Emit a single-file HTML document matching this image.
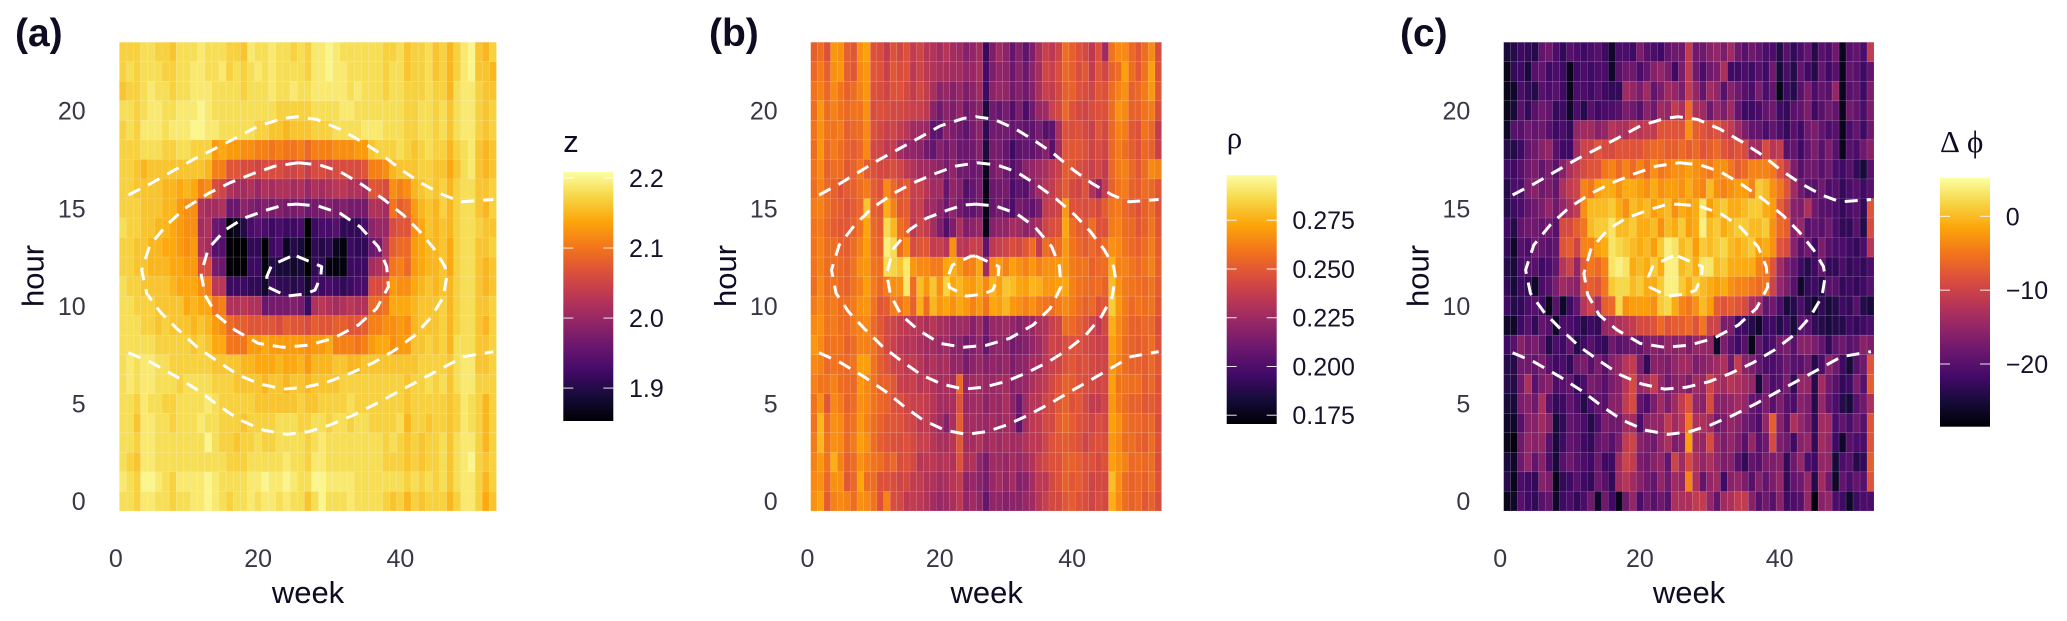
<!DOCTYPE html>
<html lang="en">
<head>
<meta charset="utf-8">
<title>Weekly and hourly heatmaps of z, rho and delta phi</title>
<style>
html,body{margin:0;padding:0;background:#fff;width:2067px;height:621px;overflow:hidden}
svg{display:block;font-family:"Liberation Sans",Arial,sans-serif}
.ytick,.xtick{font-size:25px;fill:#3b3646}
.axt{font-size:31px;fill:#0e0b22}
.tag{font-size:39px;font-weight:bold;fill:#0e0b22}
.ltick{font-size:25px;fill:#15122a}
.ltitle{font-size:31px;fill:#0e0b22}
.greek{font-family:"Liberation Serif","DejaVu Serif",serif}
</style>
</head>
<body>
<svg id="chart" xmlns="http://www.w3.org/2000/svg" width="2067" height="621" viewBox="0 0 2067 621"></svg>
<script>
const weekTicks = [0, 20, 40];
const hourTicks = [0, 5, 10, 15, 20];
const zLegendTicks = [1.9, 2.0, 2.1, 2.2];
const zLegendLabels = ["1.9", "2.0", "2.1", "2.2"];
const rhoLegendTicks = [0.175, 0.2, 0.225, 0.25, 0.275];
const rhoLegendLabels = ["0.175", "0.200", "0.225", "0.250", "0.275"];
const phiLegendTicks = [-20, -10, 0];
const phiLegendLabels = ["\u221220", "\u221210", "0"];
const infernoStops = ["#000004","#160b39","#420a68","#6a176e","#932667","#bb3754","#dd513a","#f3771a","#fca50a","#f6d645","#fcffa4"];

/* contour lines, week values and hour values */
const contourTopWeeks = [1.77,4.81,7.86,10.9,13.95,17,20.04,23.55,25.43,28.24,31.52,34.56,37.14,40.18,42.99,46.04,48.62,53.07];
const contourTopHours = [15.68,16.24,16.87,17.5,18.06,18.63,19.21,19.6,19.69,19.55,19.04,18.41,17.81,16.96,16.27,15.68,15.33,15.45];
const contourBottomWeeks = [1.77,4.81,8.56,11.84,14.65,17.46,20.74,24.02,27.07,30.11,33.39,36.67,39.72,42.76,45.8,48.85,53.07];
const contourBottomHours = [7.6,7.14,6.37,5.61,4.84,4.16,3.64,3.42,3.56,3.9,4.41,5.01,5.61,6.2,6.8,7.4,7.66];
const contourWideWeeks = [25.66,28.71,31.52,34.56,37.61,40.42,42.76,44.87,46.27,46.51,46.04,44.4,42.06,39.25,36.2,32.92,29.88,26.6,23.55,20.27,17.23,14.18,11.37,8.56,6.22,4.34,3.64,4.81,7.15,9.73,13.01,16.06,19.34,22.38,25.66];
const contourWideHours = [17.33,17.21,16.87,16.22,15.47,14.65,13.8,12.86,12.01,11.49,10.47,9.45,8.51,7.74,7.09,6.54,6.12,5.83,5.74,6,6.46,7.19,7.91,8.85,9.7,10.64,11.84,13.12,14.14,14.99,15.76,16.31,16.78,17.16,17.33];
const contourMidWeeks = [25.43,28.47,31.52,34.33,36.9,38.08,38.31,36.67,34.09,30.58,27.07,23.55,20.04,16.76,14.18,12.54,11.98,13.01,15.35,17.93,21.21,23.55,25.43];
const contourMidHours = [15.21,15.11,14.74,14.05,13.03,12.01,10.98,9.87,9.02,8.34,7.99,7.88,8.08,8.76,9.53,10.56,11.66,12.94,13.88,14.48,14.91,15.16,15.21];
const contourInnerWeeks = [25.43,28.94,28.8,28,26.6,24.02,21.44,21.21,21.91,24.72,25.43];
const contourInnerHours = [12.55,12.01,11.49,10.81,10.61,10.5,10.95,11.49,12.09,12.55,12.55];

/* panel a: z = 1.99 + value / 100, rows run from hour 23 down to hour 0, columns week 1 to 53 */
const zRows = [
[18,18,18,19,19,18,18,17,19,19,19,20,19,19,19,18,18,17,20,19,19,20,19,19,18,19,18,20,20,21,20,19,19,19,19,19,19,18,18,19,17,18,18,19,17,18,16,18,20,21,17,16,18],
[18,19,18,19,19,19,18,18,19,19,20,20,19,19,20,18,19,18,19,20,19,20,19,19,19,19,18,20,20,21,20,20,19,19,19,19,19,18,19,19,17,18,18,19,17,18,16,18,20,21,17,17,16],
[17,18,18,19,20,19,19,18,19,19,20,20,20,19,19,19,19,18,19,19,19,20,19,19,20,19,19,20,20,20,20,20,19,20,19,19,19,18,19,19,18,18,18,19,18,18,16,19,20,20,18,17,17],
[19,19,18,19,20,20,19,19,20,20,20,21,20,19,19,19,19,19,19,19,19,19,18,18,18,18,18,19,19,19,19,20,20,19,19,19,19,19,19,19,18,18,19,19,18,19,17,19,20,20,18,17,18],
[18,19,18,20,20,20,19,20,20,20,21,21,20,20,19,19,19,19,19,18,18,17,17,16,17,17,17,18,18,18,19,19,19,19,20,20,20,19,19,19,18,18,19,19,18,19,17,19,20,20,18,17,18],
[18,18,18,19,19,19,18,18,19,19,18,18,18,14,15,14,14,13,13,12,12,11,12,11,11,12,10,12,12,12,13,13,13,14,14,17,18,18,18,19,18,17,18,19,18,18,16,18,19,20,17,16,17],
[18,18,17,16,17,17,17,17,17,17,17,17,16,12,12,8,8,7,7,6,7,7,7,6,6,7,5,7,7,6,7,7,7,7,8,12,12,13,16,17,17,17,18,18,17,17,15,17,19,20,17,16,17],
[18,18,17,17,17,17,16,16,15,16,15,12,13,7,6,3,2,2,3,1,3,2,3,3,2,3,1,3,2,3,4,4,3,3,2,8,8,7,13,12,13,16,17,18,17,18,16,18,19,19,17,17,18],
[18,18,18,17,17,17,16,16,14,13,13,3,2,2,3,-3,-3,0,-1,-2,-1,-2,-1,-2,-2,-1,-3,-2,-2,-1,-2,-1,-2,-2,-2,3,3,2,11,9,10,14,16,17,16,18,16,18,19,19,17,16,18],
[19,18,18,17,17,16,16,15,14,13,13,2,3,-3,-4,-13,-12,-9,-6,-5,-6,-7,-6,-7,-7,-6,-14,-7,-6,-6,-5,-8,-8,-8,-6,0,1,1,7,8,8,13,15,17,16,17,16,18,19,19,18,17,17],
[18,18,17,17,16,16,15,15,14,13,14,3,2,-5,-5,-14,-15,-15,-8,-8,-14,-7,-6,-12,-9,-10,-14,-8,-9,-8,-12,-13,-7,-8,-8,-3,-2,3,9,10,10,14,15,16,16,17,15,18,19,19,17,17,18],
[18,18,17,17,16,16,16,15,15,14,14,7,7,-2,-3,-15,-15,-15,-7,-7,-13,-9,-10,-10,-11,-10,-15,-8,-8,-13,-13,-13,-7,-7,-7,2,3,4,11,12,10,14,15,16,16,17,15,18,19,19,17,16,17],
[19,18,18,17,17,17,17,16,15,15,15,13,12,4,4,-7,-7,-7,-8,-8,-11,-7,-8,-8,-9,-8,-11,-6,-7,-6,-7,-8,-7,-6,-6,7,7,8,14,13,13,15,16,17,16,17,16,18,19,19,17,16,17],
[19,19,18,18,18,17,17,17,17,15,16,15,15,11,12,3,3,4,3,3,-3,-2,-2,-2,-1,-2,-7,3,4,3,2,3,4,3,3,10,10,11,15,15,15,16,17,17,17,18,16,18,19,19,17,17,18],
[19,19,19,18,18,17,18,17,17,17,16,17,16,14,13,10,9,9,8,8,8,8,7,9,8,8,7,9,8,8,9,9,8,8,9,12,12,13,13,14,13,16,17,17,17,18,16,18,19,19,17,16,18],
[19,19,19,19,19,18,18,18,18,18,17,18,17,15,15,11,11,11,14,14,15,14,14,14,14,14,13,14,14,15,12,12,12,11,12,14,15,15,13,14,14,17,17,18,17,18,16,19,19,19,17,17,18],
[19,20,19,20,20,19,19,18,18,18,18,18,18,17,17,17,17,16,16,15,15,15,16,15,15,16,14,16,16,16,17,17,16,16,17,17,17,17,17,17,17,17,18,18,18,18,17,19,20,20,17,17,18],
[19,20,19,20,20,19,19,19,18,19,19,19,19,18,18,18,17,17,17,17,16,17,17,16,17,17,16,17,17,17,17,18,18,18,18,18,18,18,18,18,17,18,18,19,18,19,17,19,20,20,18,18,18],
[19,19,18,20,19,19,18,18,19,19,19,19,20,19,18,18,18,18,18,17,17,17,17,17,17,18,17,17,18,18,18,18,19,18,18,18,18,18,18,18,17,18,18,18,18,18,17,18,20,19,18,16,18],
[19,19,17,20,20,19,19,18,19,19,19,20,19,19,18,18,18,17,18,18,18,18,19,19,19,18,18,19,19,18,19,19,18,19,19,18,18,18,18,19,16,18,18,17,18,18,17,18,20,19,18,16,18],
[19,19,18,20,20,19,19,19,19,19,19,19,21,19,18,18,17,18,18,19,18,18,19,19,19,19,18,19,20,19,19,19,19,19,19,19,19,18,19,18,17,18,17,18,18,19,17,19,20,20,18,16,18],
[19,18,17,20,20,19,19,19,19,19,19,19,19,19,19,18,18,18,19,19,19,19,19,20,19,19,18,20,20,19,19,19,19,19,19,19,19,18,18,18,17,18,17,18,18,19,17,19,20,21,18,17,18],
[20,19,18,21,21,20,19,18,20,20,20,20,21,20,19,19,19,19,20,20,21,20,20,21,20,19,19,21,21,20,20,20,20,19,19,19,19,19,19,19,18,19,18,19,18,19,17,19,20,20,18,16,18],
[19,19,18,20,20,19,19,18,19,19,20,20,21,20,19,18,19,19,20,19,20,20,19,20,19,19,17,19,21,19,19,19,20,19,19,19,19,18,17,18,16,18,17,18,18,18,16,18,20,20,18,15,17]
];

/* panel b: rho = 0.197 + value / 1000, rows run from hour 23 down to hour 0 */
const rhoRows = [
[55,60,50,72,70,55,52,70,75,50,48,40,50,45,50,40,44,36,35,30,36,30,28,20,24,30,-3,18,28,22,10,20,8,18,32,42,38,44,60,55,50,46,38,50,28,62,68,68,58,52,60,68,48],
[58,64,55,70,72,55,52,68,72,52,50,42,52,48,50,38,44,38,34,32,32,30,30,24,26,32,0,18,24,22,12,22,12,22,30,45,42,48,58,55,48,52,40,52,45,56,60,74,60,52,62,74,50],
[62,66,58,68,62,56,60,66,72,50,48,44,50,50,46,40,46,40,32,22,26,20,26,18,22,28,-2,22,26,24,14,20,14,20,32,42,40,46,55,56,50,48,44,52,50,60,66,70,55,58,64,72,52],
[60,72,60,66,62,58,62,62,70,48,50,48,46,46,44,42,42,38,22,14,22,18,24,12,18,22,-12,14,10,16,4,18,2,14,26,28,42,46,58,50,46,44,48,50,50,60,70,68,56,56,62,64,48],
[62,70,62,62,64,55,58,60,68,50,46,42,44,40,36,28,28,26,8,8,22,18,14,8,16,22,-6,14,14,14,10,12,8,8,16,6,8,32,50,48,50,46,42,52,46,58,66,64,52,50,62,58,40],
[60,72,58,64,60,56,54,58,68,46,44,38,40,30,24,24,22,14,10,20,14,20,12,12,14,20,-12,16,16,10,-2,8,10,8,14,20,6,30,52,52,52,50,44,48,44,58,64,60,54,50,58,56,42],
[62,68,56,60,60,52,56,62,54,50,46,46,48,44,38,34,30,28,26,22,16,24,14,14,12,14,-20,16,20,12,4,12,22,24,28,32,38,42,54,52,48,46,42,46,40,58,64,66,58,52,60,68,66],
[60,66,58,56,50,54,56,60,64,54,50,68,58,50,54,42,42,36,28,30,10,24,20,4,10,16,-22,12,14,16,2,8,6,18,28,36,40,46,54,46,44,50,34,22,40,56,62,64,56,54,60,58,52],
[64,66,60,56,54,50,54,58,84,56,52,78,66,52,54,40,42,30,28,22,12,24,14,8,8,14,-22,10,16,10,2,16,12,8,16,40,42,44,72,50,50,48,50,46,54,62,64,58,54,50,56,60,50],
[62,64,58,54,52,52,56,62,76,58,54,90,80,60,56,38,44,40,30,18,4,18,32,18,22,26,-22,20,24,24,30,28,22,26,32,44,48,50,76,60,54,52,60,50,50,64,66,60,58,52,56,62,52],
[62,66,60,60,56,54,60,66,74,60,56,96,90,60,70,48,52,52,40,42,36,70,38,36,42,42,8,38,42,44,48,46,52,60,40,60,56,60,72,62,58,54,58,54,60,70,68,62,58,56,60,64,54],
[62,66,60,60,58,56,62,70,72,62,60,90,88,84,94,72,68,68,64,64,76,78,72,64,66,76,28,68,72,66,74,70,66,72,66,70,70,72,72,64,62,62,56,58,60,78,66,66,62,58,62,66,56],
[60,68,60,62,58,56,62,66,74,64,58,64,70,70,94,60,82,72,84,70,88,76,80,74,72,78,68,80,74,84,82,76,74,80,78,72,72,74,76,66,62,60,58,60,56,82,70,64,62,60,58,62,54],
[64,68,62,64,60,60,64,70,72,62,52,54,64,62,68,56,78,60,80,72,76,70,76,72,66,72,62,76,74,80,72,70,66,70,64,62,60,64,68,64,60,56,58,50,52,86,72,64,58,62,60,62,52],
[68,70,62,64,60,58,64,66,68,58,52,46,44,40,38,36,36,32,36,32,30,26,28,28,20,28,14,26,26,28,24,20,24,26,32,34,42,44,60,58,54,50,44,38,46,78,68,62,56,56,58,58,48],
[72,68,60,62,62,56,60,66,66,62,54,46,42,38,34,36,32,28,30,26,28,22,22,14,18,24,10,22,24,22,14,18,20,24,28,36,44,42,48,50,50,46,44,42,42,74,68,60,56,54,56,60,50],
[68,66,58,62,60,58,62,74,74,62,54,50,44,42,38,40,36,30,34,30,32,24,26,16,22,26,20,24,22,26,18,22,24,30,30,38,42,44,50,52,48,50,46,44,44,72,66,60,56,56,54,58,52],
[66,62,62,66,60,58,58,72,68,62,56,56,52,42,40,42,36,38,34,30,32,30,58,24,28,30,26,26,28,30,20,24,26,32,36,40,46,50,56,54,50,48,46,44,46,74,62,62,60,60,54,58,50],
[62,70,52,68,64,56,60,70,68,62,58,56,50,48,44,42,42,40,36,30,30,32,50,26,28,30,22,28,26,32,22,12,28,36,36,44,46,52,56,50,52,46,40,40,44,72,64,60,56,56,52,54,50],
[62,80,60,70,68,58,62,72,66,60,56,52,52,50,46,44,38,40,34,28,20,32,54,28,30,28,26,30,26,30,26,8,30,38,40,46,46,54,58,54,50,48,44,48,46,74,70,62,58,58,56,58,48],
[64,80,62,70,68,58,64,74,70,60,54,52,50,48,50,46,42,42,36,32,32,36,52,30,30,34,26,32,28,32,28,30,34,38,38,44,50,52,54,52,50,44,48,50,48,72,68,60,60,56,54,60,50],
[66,72,62,78,66,56,60,70,66,62,60,54,58,48,50,46,36,38,38,34,36,34,50,32,34,24,16,28,28,26,30,26,30,34,42,46,50,50,56,56,54,50,50,46,50,74,70,66,58,60,58,60,48],
[68,70,58,70,70,52,58,76,60,60,50,50,48,44,46,40,40,34,34,30,32,36,40,22,26,22,16,26,30,24,30,20,22,30,38,38,46,50,56,52,54,50,44,46,46,82,70,60,56,58,56,60,50],
[70,74,54,66,68,66,60,70,68,62,50,66,48,46,38,40,38,34,30,26,28,32,38,24,28,24,10,24,24,20,22,22,26,28,36,42,46,46,52,54,50,48,44,48,46,78,68,60,56,58,52,56,48]
];

/* panel c: delta phi, rows run from hour 23 down to hour 0 */
const phiRows = [
[-25,-24,-22,-23,-24,-19,-18,-21,-23,-20,-21,-22,-21,-20,-22,-26,-21,-21,-22,-17,-20,-21,-22,-19,-18,-18,-11,-18,-18,-16,-15,-17,-14,-18,-20,-18,-19,-21,-21,-24,-20,-23,-21,-19,-24,-20,-21,-18,-27,-20,-19,-21,-11],
[-27,-23,-22,-25,-20,-19,-22,-21,-22,-27,-22,-21,-22,-21,-21,-26,-20,-18,-18,-21,-19,-16,-15,-17,-22,-17,-11,-18,-21,-18,-17,-13,-22,-22,-21,-22,-20,-22,-18,-25,-21,-24,-19,-22,-24,-19,-22,-20,-27,-19,-20,-22,-19],
[-27,-26,-21,-23,-24,-20,-21,-20,-22,-27,-21,-21,-22,-20,-22,-23,-23,-14,-15,-17,-14,-19,-17,-14,-15,-17,-11,-15,-19,-14,-15,-20,-16,-18,-20,-21,-17,-21,-19,-27,-22,-24,-20,-17,-21,-19,-20,-15,-27,-20,-19,-22,-17],
[-27,-25,-20,-23,-20,-18,-19,-23,-22,-26,-21,-24,-20,-22,-21,-21,-20,-17,-18,-20,-16,-18,-14,-15,-11,-13,-6,-13,-14,-18,-15,-17,-14,-19,-22,-22,-21,-19,-18,-22,-23,-20,-19,-17,-22,-20,-18,-19,-27,-18,-19,-21,-17],
[-26,-20,-20,-18,-19,-18,-20,-22,-21,-23,-15,-14,-14,-16,-15,-12,-13,-13,-11,-12,-11,-11,-8,-8,-8,-8,-3,-7,-8,-9,-8,-10,-11,-14,-17,-19,-19,-21,-19,-21,-23,-20,-22,-18,-17,-19,-21,-20,-27,-21,-19,-22,-18],
[-24,-24,-22,-19,-18,-16,-15,-20,-22,-22,-14,-10,-10,-8,-9,-9,-8,-8,-8,-8,-7,-6,-6,-7,-7,-6,-7,-6,-8,-7,-6,-8,-9,-8,-9,-14,-14,-9,-12,-11,-20,-19,-22,-19,-17,-20,-17,-20,-27,-20,-21,-18,-16],
[-22,-22,-20,-18,-17,-19,-17,-20,-16,-13,-11,-9,-8,-8,-5,-4,-6,-4,-6,-4,-6,-3,-5,-4,-3,-3,-2,-3,-4,-5,-3,-3,-5,-7,-6,-4,-4,-4,-5,-8,-11,-17,-20,-18,-18,-20,-18,-21,-22,-20,-23,-25,-20],
[-24,-21,-21,-17,-16,-18,-17,-19,-13,-11,-10,-4,-5,-2,-1,-1,-3,-1,-1,-2,-3,-1,-3,-2,-2,-3,-1,-3,-4,0,-3,-4,-3,-2,-2,-4,1,0,-3,-5,-8,-14,-18,-20,-20,-18,-21,-20,-23,-21,-20,-22,-20],
[-24,-22,-21,-19,-18,-17,-15,-18,-15,-13,-11,-3,0,0,0,1,-1,-3,0,-1,0,-2,-1,0,-3,-1,-2,-1,3,-2,0,1,-1,-1,0,1,1,-1,-2,-7,-10,-16,-17,-13,-18,-20,-20,-21,-23,-21,-20,-23,-8],
[-22,-24,-19,-18,-18,-19,-18,-20,-9,-9,-7,-5,0,1,1,3,0,0,1,-1,-1,0,-3,0,-1,1,-2,-1,4,0,1,-1,0,1,1,0,0,1,-3,-6,-7,-16,-15,-20,-19,-20,-18,-21,-23,-23,-20,-24,-9],
[-23,-26,-20,-21,-18,-19,-20,-19,-8,-7,-10,-4,-4,-2,-1,3,2,1,0,-1,0,-2,1,4,3,0,1,-2,1,0,1,2,0,-1,0,1,-2,-1,-3,-8,-9,-16,-20,-18,-22,-17,-20,-21,-21,-22,-23,-21,-12],
[-24,-25,-21,-20,-20,-22,-21,-19,-12,-10,-15,-7,-5,-6,-4,3,4,3,-1,0,-1,1,-1,4,4,0,1,-1,3,3,0,1,-1,-1,-1,-1,-4,-5,-8,-14,-17,-19,-22,-24,-22,-19,-23,-23,-21,-23,-22,-23,-21],
[-23,-25,-22,-23,-26,-21,-20,-17,-14,-15,-16,-8,-7,-8,-5,1,2,2,0,1,-1,-1,1,4,4,1,-1,1,0,-1,-2,-1,-3,-4,-4,-5,-6,-5,-10,-15,-17,-20,-26,-23,-22,-24,-20,-20,-23,-22,-23,-22,-20],
[-22,-24,-23,-21,-20,-22,-27,-20,-26,-22,-19,-12,-10,-14,-7,-6,2,-3,-2,-2,-2,-3,1,2,-1,-4,-5,-3,0,-2,-7,-8,-7,-8,-9,-13,-14,-19,-18,-21,-25,-24,-21,-24,-26,-23,-25,-24,-22,-23,-20,-24,-25],
[-26,-26,-22,-20,-23,-19,-20,-26,-21,-21,-22,-24,-22,-23,-15,-14,-13,-12,-11,-9,-9,-8,-6,-8,-7,-7,-6,-8,-5,-10,-10,-17,-17,-22,-22,-24,-26,-22,-22,-24,-22,-25,-20,-20,-23,-24,-25,-24,-24,-22,-23,-22,-21],
[-22,-20,-16,-18,-17,-19,-24,-21,-22,-19,-24,-22,-20,-22,-23,-18,-20,-19,-18,-19,-17,-16,-17,-15,-16,-15,-17,-15,-15,-15,-26,-17,-20,-22,-20,-27,-19,-22,-21,-18,-17,-20,-16,-16,-17,-19,-23,-19,-18,-20,-19,-16,-17],
[-24,-24,-18,-18,-19,-17,-20,-22,-21,-23,-18,-17,-20,-17,-20,-16,-15,-12,-11,-17,-23,-16,-16,-17,-15,-14,-14,-17,-16,-15,-14,-13,-18,-11,-16,-17,-19,-21,-21,-20,-18,-20,-20,-18,-24,-21,-16,-18,-22,-25,-20,-18,-8],
[-24,-24,-18,-13,-20,-17,-16,-21,-20,-19,-23,-21,-17,-18,-20,-17,-16,-12,-9,-15,-14,-11,-15,-18,-16,-15,-17,-14,-15,-10,-13,-14,-12,-13,-14,-15,-25,-18,-21,-20,-17,-23,-15,-15,-24,-14,-18,-20,-23,-22,-17,-20,-7],
[-25,-25,-17,-16,-18,-13,-20,-23,-22,-19,-21,-24,-21,-19,-20,-16,-16,-11,-9,-19,-21,-17,-14,-17,-14,-11,-8,-15,-16,-9,-16,-16,-15,-14,-15,-19,-20,-17,-20,-17,-20,-21,-16,-17,-24,-15,-19,-21,-24,-25,-20,-18,-13],
[-26,-26,-20,-16,-16,-14,-16,-25,-23,-19,-20,-21,-24,-21,-17,-18,-18,-14,-14,-21,-16,-15,-15,-11,-14,-12,-5,-13,-13,-14,-18,-17,-15,-16,-18,-19,-21,-15,-7,-16,-20,-13,-15,-17,-23,-14,-14,-21,-19,-21,-18,-20,-8],
[-27,-28,-18,-15,-16,-15,-20,-25,-22,-19,-20,-22,-23,-19,-18,-20,-17,-11,-10,-16,-17,-18,-15,-13,-17,-16,-2,-14,-15,-9,-15,-17,-15,-17,-20,-15,-20,-18,-9,-17,-18,-22,-16,-15,-23,-14,-15,-22,-26,-20,-21,-21,-8],
[-25,-26,-18,-15,-19,-16,-21,-25,-20,-18,-20,-21,-22,-18,-22,-22,-14,-10,-11,-17,-18,-16,-15,-19,-10,-14,-9,-13,-15,-13,-15,-17,-16,-20,-23,-19,-20,-17,-17,-16,-23,-18,-15,-21,-22,-15,-15,-25,-21,-20,-24,-23,-7],
[-24,-27,-21,-22,-23,-16,-17,-27,-23,-22,-20,-22,-23,-18,-20,-23,-14,-12,-14,-16,-18,-19,-15,-18,-14,-15,-4,-13,-19,-15,-14,-22,-16,-15,-17,-20,-16,-19,-17,-15,-23,-19,-18,-15,-24,-14,-18,-26,-19,-21,-19,-20,-8],
[-27,-26,-20,-22,-23,-20,-19,-26,-22,-21,-23,-21,-18,-26,-18,-22,-27,-18,-15,-21,-18,-20,-18,-20,-13,-13,-13,-11,-11,-15,-19,-14,-13,-11,-11,-16,-20,-18,-20,-16,-22,-21,-20,-15,-28,-16,-15,-21,-22,-26,-22,-21,-21]
];

const NS = "http://www.w3.org/2000/svg";
const root = document.getElementById("chart");

function make(tag, attrs, parent, text) {
  const el = document.createElementNS(NS, tag);
  for (const k in attrs) el.setAttribute(k, attrs[k]);
  if (text !== undefined) el.textContent = text;
  parent.appendChild(el);
  return el;
}
function hexToRgb(h) {
  return [parseInt(h.slice(1, 3), 16), parseInt(h.slice(3, 5), 16), parseInt(h.slice(5, 7), 16)];
}
function inferno(t) {
  const c = Math.max(0, Math.min(1, t)) * (infernoStops.length - 1);
  const i = Math.min(Math.floor(c), infernoStops.length - 2);
  const f = c - i;
  const a = hexToRgb(infernoStops[i]);
  const b = hexToRgb(infernoStops[i + 1]);
  return "rgb(" + [0, 1, 2].map(function (k) { return Math.round(a[k] + (b[k] - a[k]) * f); }).join(",") + ")";
}

const yOfHour = function (h) { return 501.2 - 19.53 * h; };
const defs = make("defs", {}, root);
const gradient = make("linearGradient", { id: "inferno-gradient", x1: 0, y1: 1, x2: 0, y2: 0 }, defs);
infernoStops.forEach(function (c, i) {
  make("stop", { offset: i / (infernoStops.length - 1), "stop-color": c }, gradient);
});

const contourSets = [
  ["contour-top", contourTopWeeks, contourTopHours],
  ["contour-bottom", contourBottomWeeks, contourBottomHours],
  ["contour-wide", contourWideWeeks, contourWideHours],
  ["contour-mid", contourMidWeeks, contourMidHours],
  ["contour-inner", contourInnerWeeks, contourInnerHours]
];

function drawPanel(p) {
  const xOfWeek = function (w) { return p.x0 + p.perWeek * w; };
  const colour = function (v) { return inferno((v - p.min) / (p.max - p.min)); };
  const g = make("g", {}, root);
  
  

  const tag = make("text", { class: "tag", x: p.tagX, y: 46 }, g, p.tag);
  
  

  const cells = make("g", {}, g);
  
  
  p.rows.forEach(function (row, r) {
    const hour = 23 - r;
    row.forEach(function (raw, c) {
      const week = c + 1;
      const rect = make("rect", {
        x: xOfWeek(week - 0.5),
        y: yOfHour(hour + 0.5),
        width: p.perWeek,
        height: 19.53,
        fill: colour(p.value(raw)),
        stroke: "rgba(255,255,255,0.13)",
        "stroke-width": 0.6
      }, cells);
      
      
    });
  });

  contourSets.forEach(function (set) {
    const pts = set[1].map(function (w, i) { return xOfWeek(w).toFixed(1) + "," + yOfHour(set[2][i]).toFixed(1); }).join(" ");
    const line = make("polyline", {
      points: pts, fill: "none", stroke: "#fff", "stroke-width": 3,
      "stroke-dasharray": "13 9", "stroke-linejoin": "round"
    }, g);
    
    
  });

  hourTicks.forEach(function (h) {
    const t = make("text", { class: "ytick", x: p.yLabelX, y: yOfHour(h) + 9, "text-anchor": "end" }, g, String(h));
    
    
  });
  weekTicks.forEach(function (w) {
    const t = make("text", { class: "xtick", x: xOfWeek(w), y: 567, "text-anchor": "middle" }, g, String(w));
    
    
  });
  const xt = make("text", { class: "axt", x: p.weekX, y: 603, "text-anchor": "middle" }, g, "week");
  
  
  const yt = make("text", { class: "axt", transform: "translate(" + p.hourX + ",276) rotate(-90)", "text-anchor": "middle" }, g, "hour");
  
  

  const lg = make("g", {}, g);
  
  
  const yOfLegend = function (v) { return p.barBottom - (v - p.min) / (p.max - p.min) * (p.barBottom - p.barTop); };
  const bar = make("rect", { x: p.barX, y: p.barTop, width: 50, height: p.barBottom - p.barTop, fill: "url(#inferno-gradient)" }, lg);
  
  
  p.legendTicks.forEach(function (v, i) {
    const y = yOfLegend(v);
    [p.barX, p.barX + 40].forEach(function (x) {
      const tk = make("rect", { x: x, y: y - 0.5, width: 10, height: 1, fill: "#fff", opacity: 0.9 }, lg);
      
      
    });
    const lab = make("text", { class: "ltick", x: p.barX + 65.7, y: y + 9 }, lg, p.legendLabels[i]);
    
    
  });
  const title = make("text", { class: "ltitle" + (p.greek ? " greek" : ""), x: p.barX, y: p.titleY }, lg);
  
  
  p.title.forEach(function (part) {
    make("tspan", { x: part[1] }, title, part[0]);
  });
}

drawPanel({
  name: "z", tag: "(a)", tagX: 15, rows: zRows,
  value: function (v) { return 1.99 + v / 100; },
  min: 1.853, max: 2.209, x0: 115.8, perWeek: 7.115,
  yLabelX: 85.7, weekX: 308, hourX: 43.3,
  barX: 563.3, barTop: 171.7, barBottom: 421,
  legendTicks: zLegendTicks, legendLabels: zLegendLabels,
  title: [["z", 563.3]], titleY: 152, greek: false
});
drawPanel({
  name: "rho", tag: "(b)", tagX: 709, rows: rhoRows,
  value: function (v) { return 0.197 + v / 1000; },
  min: 0.1705, max: 0.2982, x0: 807.4, perWeek: 6.62,
  yLabelX: 777.7, weekX: 986.7, hourX: 736,
  barX: 1226.7, barTop: 175, barBottom: 424,
  legendTicks: rhoLegendTicks, legendLabels: rhoLegendLabels,
  title: [["\u03C1", 1226.7]], titleY: 148, greek: true
});
drawPanel({
  name: "phi", tag: "(c)", tagX: 1400, rows: phiRows,
  value: function (v) { return v; },
  min: -28.49, max: 5.23, x0: 1500.2, perWeek: 6.987,
  yLabelX: 1470.3, weekX: 1689, hourX: 1428.3,
  barX: 1940, barTop: 177.7, barBottom: 426.7,
  legendTicks: phiLegendTicks, legendLabels: phiLegendLabels,
  title: [["\u0394", 1940], ["\u03D5", 1967]], titleY: 152, greek: true
});
</script>
</body>
</html>
